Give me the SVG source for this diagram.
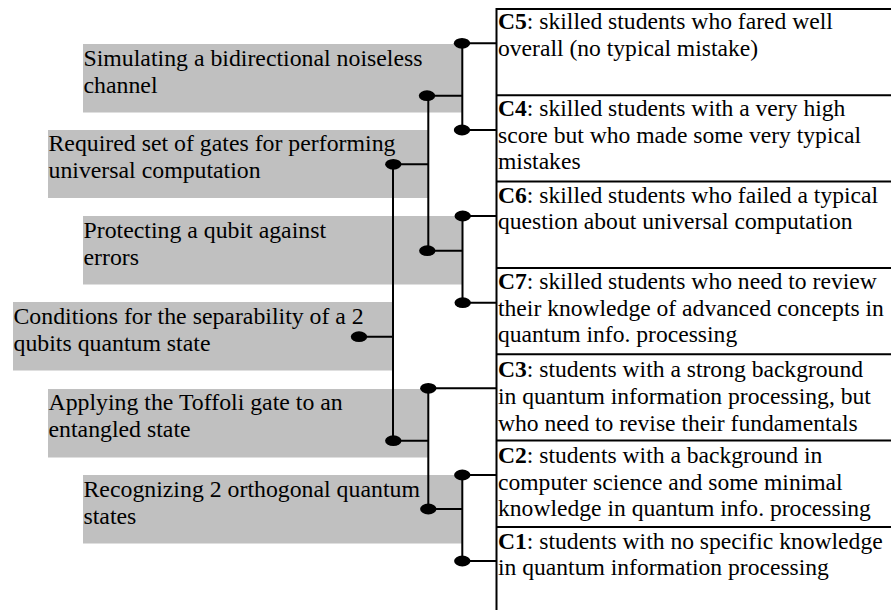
<svg xmlns="http://www.w3.org/2000/svg" width="891" height="610" viewBox="0 0 891 610">
<style>
.box{fill:#c0c0c0;stroke:none}
.lt{font-family:"Liberation Serif","Times New Roman",serif;font-size:23.8px;fill:#000}
.rt{font-family:"Liberation Serif","Times New Roman",serif;font-size:23.6px;fill:#000}
.b{font-weight:bold}
.ln{stroke:#000;stroke-width:2;fill:none}
.dot{fill:#000}
.frame{stroke:#000;stroke-width:2;fill:none}
</style>
<rect width="891" height="610" fill="#fff"/>

<g id="topic1">
<rect class="box" x="83" y="44" width="379" height="68.5"/>
<text class="lt" x="83.5" y="65.5">Simulating a bidirectional noiseless</text>
<text class="lt" x="83.5" y="92.5">channel</text>
</g>
<g id="topic2">
<rect class="box" x="48" y="130" width="380" height="68"/>
<text class="lt" x="48.5" y="151">Required set of gates for performing</text>
<text class="lt" x="48.5" y="178">universal computation</text>
</g>
<g id="topic3">
<rect class="box" x="83" y="216" width="379" height="68.5"/>
<text class="lt" x="83.5" y="237.5">Protecting a qubit against</text>
<text class="lt" x="83.5" y="264.5">errors</text>
</g>
<g id="topic4">
<rect class="box" x="13" y="302" width="380" height="68.5"/>
<text class="lt" x="13.5" y="324">Conditions for the separability of a 2</text>
<text class="lt" x="13.5" y="351">qubits quantum state</text>
</g>
<g id="topic5">
<rect class="box" x="48" y="389" width="380" height="68.5"/>
<text class="lt" x="48.5" y="410">Applying the Toffoli gate to an</text>
<text class="lt" x="48.5" y="437">entangled state</text>
</g>
<g id="topic6">
<rect class="box" x="83" y="475" width="379" height="68.5"/>
<text class="lt" x="83.5" y="496.5">Recognizing 2 orthogonal quantum</text>
<text class="lt" x="83.5" y="523.5">states</text>
</g>

<g id="clusters">
<path class="frame" d="M496.5,610 V9 H891 M496.5,95.3 H891 M496.5,181.6 H891 M496.5,268 H891 M496.5,354.3 H891 M496.5,440.6 H891 M496.5,527 H891"/>
</g>
<g id="C5"><text class="rt" x="498" y="29"><tspan class="b">C5</tspan>: skilled students who fared well</text>
<text class="rt" x="498" y="55.5">overall (no typical mistake)</text></g>
<g id="C4"><text class="rt" x="498" y="116"><tspan class="b">C4</tspan>: skilled students with a very high</text>
<text class="rt" x="498" y="142.7">score but who made some very typical</text>
<text class="rt" x="498" y="169.4">mistakes</text></g>
<g id="C6"><text class="rt" x="498" y="202.5"><tspan class="b">C6</tspan>: skilled students who failed a typical</text>
<text class="rt" x="498" y="229.2">question about universal computation</text></g>
<g id="C7"><text class="rt" x="498" y="289"><tspan class="b">C7</tspan>: skilled students who need to review</text>
<text class="rt" x="498" y="315.7">their knowledge of advanced concepts in</text>
<text class="rt" x="498" y="342.4">quantum info. processing</text></g>
<g id="C3"><text class="rt" x="498" y="377"><tspan class="b">C3</tspan>: students with a strong background</text>
<text class="rt" x="498" y="404">in quantum information processing, but</text>
<text class="rt" x="498" y="431">who need to revise their fundamentals</text></g>
<g id="C2"><text class="rt" x="498" y="463"><tspan class="b">C2</tspan>: students with a background in</text>
<text class="rt" x="498" y="489.7">computer science and some minimal</text>
<text class="rt" x="498" y="516.4">knowledge in quantum info. processing</text></g>
<g id="C1"><text class="rt" x="498" y="548.5"><tspan class="b">C1</tspan>: students with no specific knowledge</text>
<text class="rt" x="498" y="575.2">in quantum information processing</text></g>

<g id="connectors">
<path class="ln" d="M462,43.3 H496 M462.3,43.3 V130 M462,130 H496 M427,95.7 H462.3 M428.3,95.7 V250.7 M393.3,164.3 H428.3 M427.3,250.7 H462.7 M462.5,216 V302.7 M462.5,216 H496 M462.5,302.7 H496 M393,164.3 V440.7 M359,336.7 H393 M393.3,440.7 H428.3 M428.3,388.3 V509 M428.3,388.3 H496 M428.3,509 H462.3 M462.3,475 V561 M462.3,475 H496 M462.3,561 H496"/>
<ellipse class="dot" cx="462" cy="43.3" rx="8.2" ry="5.4"/>
<ellipse class="dot" cx="462" cy="130" rx="8.2" ry="5.4"/>
<ellipse class="dot" cx="427" cy="95.7" rx="8.2" ry="5.4"/>
<ellipse class="dot" cx="393.3" cy="164.3" rx="8.2" ry="5.4"/>
<ellipse class="dot" cx="427.3" cy="250.7" rx="8.2" ry="5.4"/>
<ellipse class="dot" cx="462.7" cy="216" rx="8.2" ry="5.4"/>
<ellipse class="dot" cx="462.7" cy="302.7" rx="8.2" ry="5.4"/>
<ellipse class="dot" cx="359" cy="336.7" rx="8.2" ry="5.4"/>
<ellipse class="dot" cx="393.3" cy="440.7" rx="8.2" ry="5.4"/>
<ellipse class="dot" cx="428.3" cy="388.3" rx="8.2" ry="5.4"/>
<ellipse class="dot" cx="428.3" cy="509" rx="8.2" ry="5.4"/>
<ellipse class="dot" cx="462.3" cy="475" rx="8.2" ry="5.4"/>
<ellipse class="dot" cx="462.3" cy="561" rx="8.2" ry="5.4"/>
</g>
</svg>
